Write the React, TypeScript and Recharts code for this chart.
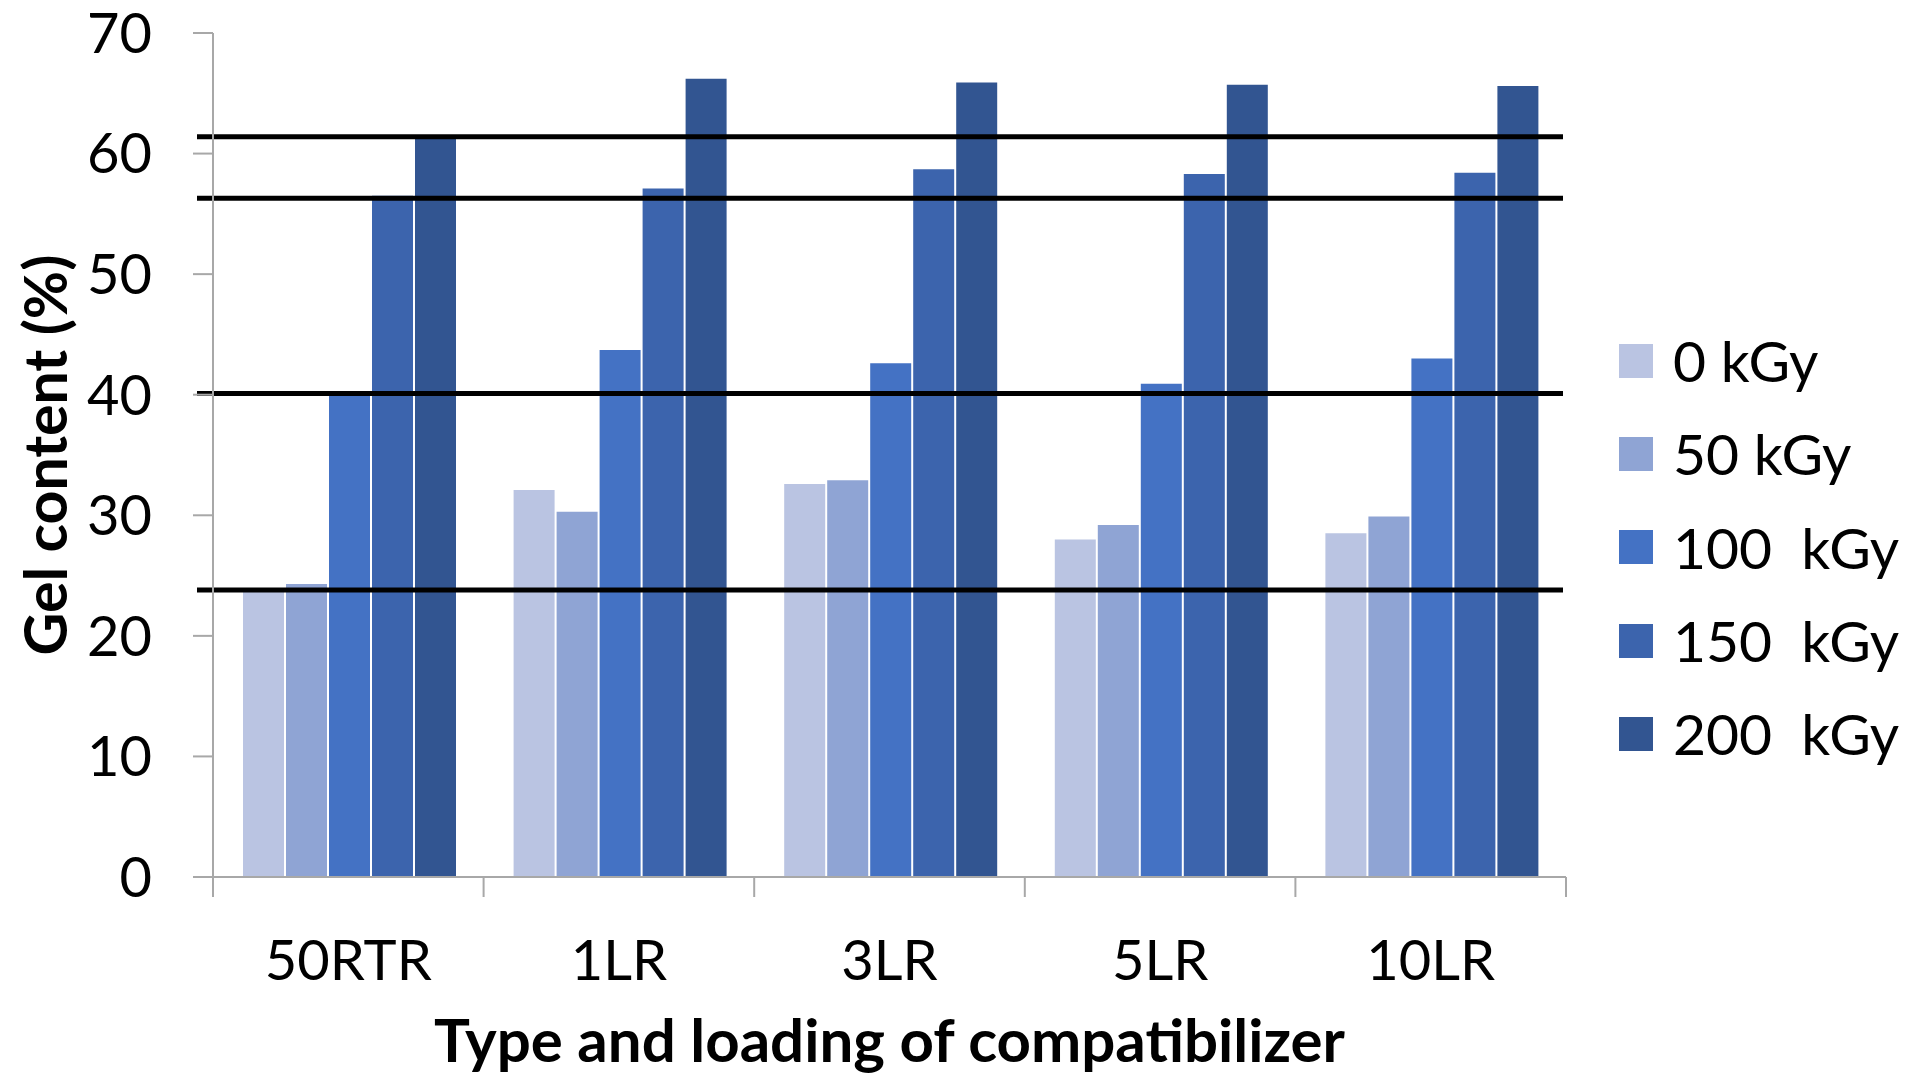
import React from 'react'
import { BarChart, Bar, XAxis, YAxis, ReferenceLine, Legend } from 'recharts'

const categories = ['50RTR', '1LR', '3LR', '5LR', '10LR']
const dose0 = [23.7, 32.1, 32.6, 28.0, 28.5]
const dose50 = [24.3, 30.3, 32.9, 29.2, 29.9]
const dose100 = [40.1, 43.7, 42.6, 40.9, 43.0]
const dose150 = [56.5, 57.1, 58.7, 58.3, 58.4]
const dose200 = [61.4, 66.2, 65.9, 65.7, 65.6]
const seriesNames = ['0 kGy', '50 kGy', '100  kGy', '150  kGy', '200  kGy']
const seriesKeys = ['d0', 'd50', 'd100', 'd150', 'd200']
const seriesColors = ['#BAC4E2', '#8FA4D4', '#4472C4', '#3C64AD', '#325591']
// levels reached by the 50RTR reference blend
const levelLines = [61.4, 56.3, 40.1, 23.8]
const yTicks = [0, 10, 20, 30, 40, 50, 60, 70]

const AXIS = '#A8A8A8'
const FONT = 'Lato'
const TICK_LEN = 20
const LABEL_GAP = 63

const data = categories.map((name, i) => ({
  name,
  d0: dose0[i],
  d50: dose50[i],
  d100: dose100[i],
  d150: dose150[i],
  d200: dose200[i],
}))

const renderLegend = () => (
  <div>
    {seriesNames.map((name, i) => (
      <div key={name} style={{ display: 'flex', alignItems: 'center', height: 93.3 }}>
        <span style={{ width: 34, height: 34, background: seriesColors[i], marginRight: 20, flex: 'none' }} />
        <span style={{ fontSize: 57, fontFamily: FONT, lineHeight: 1, whiteSpace: 'pre', color: '#000' }}>
          {name}
        </span>
      </div>
    ))}
  </div>
)

// category label plus tick marks on the band edges (between groups)
const CategoryTick = (props: any) => {
  const { x, y, payload } = props
  const half = payload.offset || 0
  const top = y - LABEL_GAP
  const isLast = payload.index === categories.length - 1
  return (
    <g>
      <line x1={x - half} y1={top} x2={x - half} y2={top + TICK_LEN} stroke={AXIS} strokeWidth={2} />
      {isLast && <line x1={x + half} y1={top} x2={x + half} y2={top + TICK_LEN} stroke={AXIS} strokeWidth={2} />}
      <text x={x} y={y} dy="0.71em" textAnchor="middle" fontSize={56} fontFamily={FONT} fill="#000">
        {payload.value}
      </text>
    </g>
  )
}

const levelShape = (p: any) => (
  <line x1={p.x1 - 16} y1={p.y1} x2={p.x2 - 3} y2={p.y2} stroke="#000" strokeWidth={5} />
)

export default function App() {
  return (
    <div style={{ position: 'absolute', left: 0, top: 0, width: 1909, height: 1075, background: '#fff' }}>
      <BarChart
        width={1909}
        height={1075}
        data={data}
        margin={{ top: 33, right: 343, bottom: 0, left: 0 }}
        barCategoryGap={30}
        barGap={2}
      >
        <XAxis
          dataKey="name"
          height={198}
          interval={0}
          tickLine={false}
          tickSize={0}
          tickMargin={LABEL_GAP}
          axisLine={{ stroke: AXIS, strokeWidth: 2 }}
          tick={<CategoryTick />}
          label={{
            value: 'Type and loading of compatibilizer',
            position: 'insideBottom',
            offset: 13,
            style: { fontSize: 60, fontFamily: FONT, fontWeight: 700, fill: '#000' },
          }}
        />
        <YAxis
          width={213}
          domain={[0, 70]}
          ticks={yTicks}
          interval={0}
          tickSize={TICK_LEN}
          tickMargin={41}
          axisLine={{ stroke: AXIS, strokeWidth: 2 }}
          tickLine={{ stroke: AXIS, strokeWidth: 2 }}
          tick={{ fontSize: 56, fontFamily: FONT, fill: '#000' }}
          label={{
            value: 'Gel content (%)',
            angle: -90,
            position: 'insideLeft',
            offset: 46,
            style: { textAnchor: 'middle', fontSize: 59, fontFamily: FONT, fontWeight: 700, fill: '#000' },
          }}
        />
        {seriesKeys.map((key, i) => (
          <Bar key={key} dataKey={key} name={seriesNames[i]} fill={seriesColors[i]} isAnimationActive={false} />
        ))}
        {levelLines.map((v) => (
          <ReferenceLine key={v} y={v} shape={levelShape} />
        ))}
        <Legend
          layout="vertical"
          align="center"
          verticalAlign="middle"
          content={renderLegend}
          wrapperStyle={{ left: 1619, top: 314, width: 290 }}
        />
      </BarChart>
    </div>
  )
}
